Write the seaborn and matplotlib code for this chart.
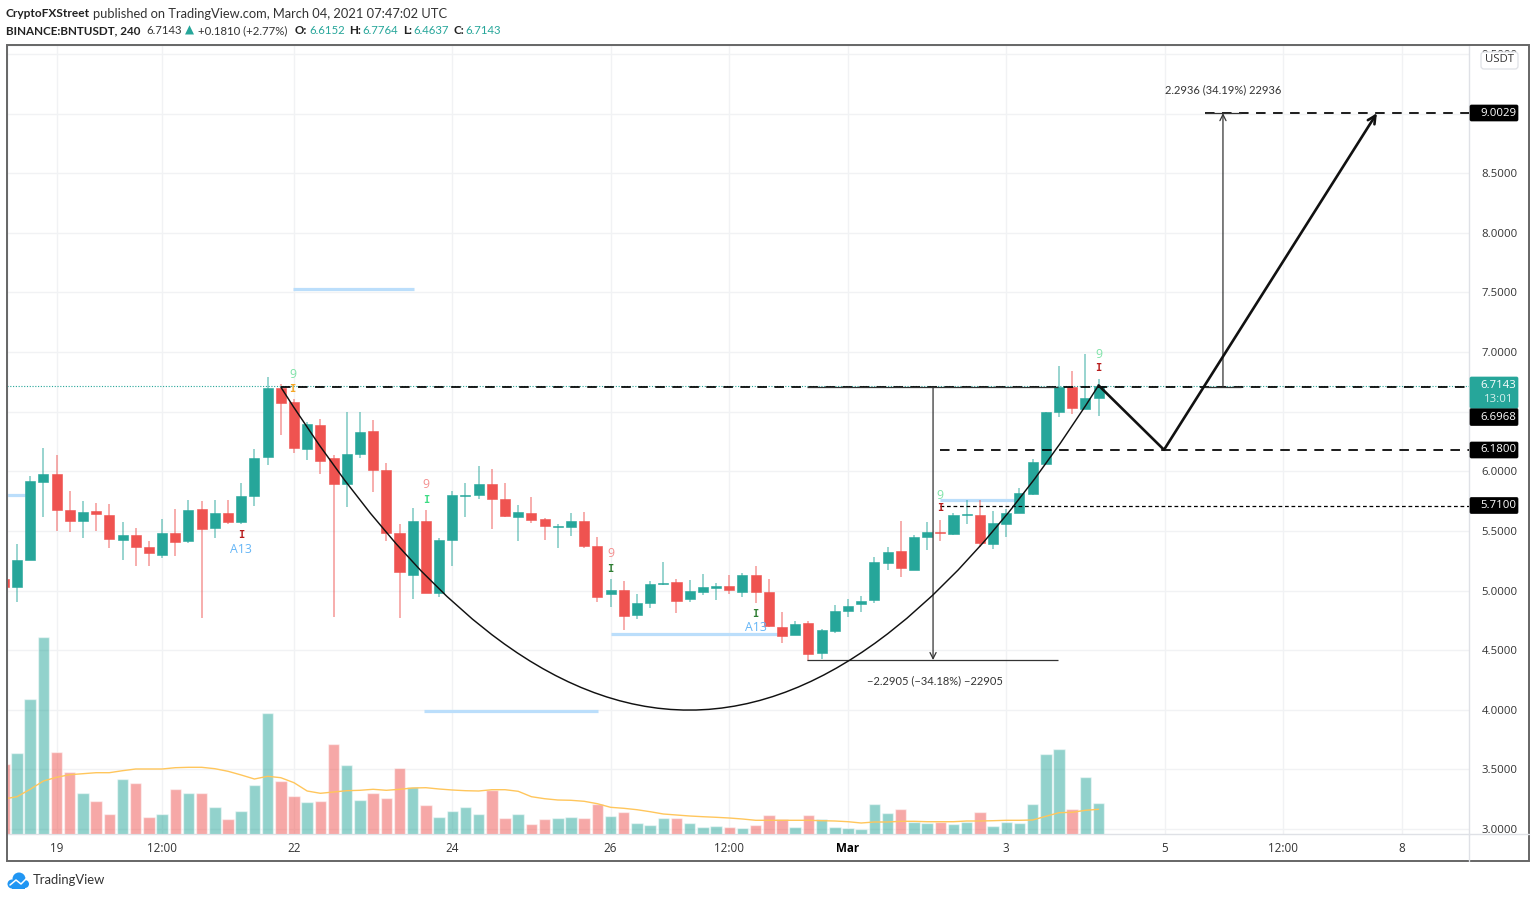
import numpy as np
import pandas as pd
import seaborn as sns
import matplotlib.pyplot as plt
from matplotlib.patches import FancyBboxPatch, PathPatch, Rectangle, Circle
from matplotlib.path import Path

# candles, first one is cut by the left edge of the chart
opens = [5.093, 5.026, 5.255, 5.912, 5.973, 5.674, 5.585, 5.663, 5.635, 5.425, 5.462, 5.361, 5.300, 5.481, 5.414, 5.680,
         5.520, 5.646, 5.573, 5.794, 6.118, 6.697, 6.579, 6.185, 6.392, 6.107, 5.892, 6.146, 6.339, 6.007, 5.481, 5.129,
         5.582, 4.981, 5.425, 5.791, 5.805, 5.895, 5.766, 5.615, 5.649, 5.596, 5.534, 5.532, 5.582, 5.375, 4.967, 5.003,
         4.794, 4.897, 5.054, 5.070, 4.928, 4.987, 5.023, 5.037, 4.984, 5.129, 4.984, 4.696, 4.629, 4.724, 4.475, 4.663,
         4.830, 4.889, 4.917, 5.230, 5.328, 5.174, 5.445, 5.490, 5.473, 5.629, 5.635, 5.386, 5.559, 5.646, 5.808, 6.062,
         6.498, 6.705, 6.523, 6.6152]
highs = [5.150, 5.389, 5.959, 6.199, 6.135, 5.836, 5.749, 5.736, 5.724, 5.571, 5.523, 5.417, 5.599, 5.682, 5.758, 5.749,
         5.763, 5.758, 5.898, 6.183, 6.792, 6.733, 6.602, 6.412, 6.440, 6.135, 6.501, 6.501, 6.428, 6.068, 5.557, 5.696,
         5.671, 5.437, 5.836, 5.900, 6.048, 6.015, 5.900, 5.713, 5.780, 5.604, 5.557, 5.654, 5.657, 5.445, 5.098, 5.076,
         4.970, 5.076, 5.235, 5.093, 5.087, 5.138, 5.059, 5.126, 5.146, 5.205, 5.093, 4.819, 4.741, 4.746, 4.679, 4.878,
         4.925, 4.953, 5.277, 5.364, 5.582, 5.464, 5.576, 5.590, 5.649, 5.763, 5.763, 5.668, 5.682, 5.856, 6.099, 6.498,
         6.881, 6.839, 6.982, 6.7764]
lows = [4.950, 4.900, 5.255, 5.618, 5.498, 5.492, 5.442, 5.498, 5.353, 5.252, 5.207, 5.207, 5.275, 5.288, 5.400, 4.772,
        5.442, 5.554, 5.554, 5.705, 6.051, 6.303, 6.155, 6.096, 5.976, 4.777, 5.702, 6.113, 5.825, 5.417, 4.769, 4.928,
        4.981, 4.948, 5.207, 5.613, 5.766, 5.512, 5.618, 5.411, 5.568, 5.425, 5.358, 5.456, 5.353, 4.900, 4.861, 4.668,
        4.760, 4.855, 5.043, 4.813, 4.903, 4.962, 4.920, 4.970, 4.948, 4.894, 4.690, 4.556, 4.629, 4.411, 4.422, 4.646,
        4.774, 4.822, 4.897, 5.171, 5.115, 5.174, 5.339, 5.417, 5.467, 5.559, 5.361, 5.344, 5.445, 5.646, 5.803, 6.062,
        6.456, 6.484, 6.523, 6.4637]
closes = [5.026, 5.255, 5.920, 5.973, 5.674, 5.585, 5.660, 5.638, 5.431, 5.462, 5.361, 5.316, 5.481, 5.409, 5.674, 5.515,
          5.646, 5.573, 5.794, 6.113, 6.697, 6.571, 6.191, 6.395, 6.090, 5.892, 6.146, 6.333, 6.012, 5.478, 5.154, 5.582,
          4.981, 5.423, 5.803, 5.800, 5.895, 5.766, 5.624, 5.657, 5.593, 5.540, 5.543, 5.582, 5.372, 4.948, 5.003, 4.788,
          4.897, 5.051, 5.065, 4.914, 4.995, 5.026, 5.037, 5.001, 5.129, 4.987, 4.702, 4.618, 4.718, 4.470, 4.665, 4.827,
          4.872, 4.911, 5.235, 5.319, 5.188, 5.448, 5.490, 5.481, 5.635, 5.638, 5.397, 5.562, 5.649, 5.814, 6.074, 6.498,
          6.705, 6.529, 6.613, 6.7143]
volume = [70, 80.7, 134.7, 197.3, 81.7, 61.7, 41.3, 33.3, 20, 54.7, 50.7, 16.7, 20, 44.7, 41.3, 41.3,
          27, 15, 23, 49, 121.3, 53, 38, 32, 33.3, 89.7, 69, 34, 40.7, 35.7, 65.7, 46.7,
          28.7, 17.3, 23, 27, 20, 44, 16, 20, 9.7, 15, 16, 17, 16, 30.3, 18.3, 22.3,
          10.7, 9, 16, 16, 11.3, 7.3, 8, 7, 5.7, 9, 19, 14.7, 7, 19, 14.7, 7.3,
          6, 5, 30.3, 20.7, 24.7, 12.3, 11.3, 12, 9.7, 12, 21.7, 8, 12, 11.3, 29.7, 80,
          85, 24.7, 57, 31]
volume_ma = [35, 37.3, 44.7, 53, 56.7, 59.3, 60.3, 61.3, 61.3, 63.3, 65, 65, 65, 66.3, 66.7, 66.7,
             65.3, 62.7, 59, 55, 57.7, 56.3, 51.3, 43, 40.7, 42, 43.3, 43.7, 44.7, 43.7, 44.7, 46,
             46.3, 45, 44, 43.3, 43, 44.3, 44.3, 42.7, 37.3, 35.3, 34, 33.7, 32.7, 30.3, 26.7, 25.7,
             24.3, 22.3, 20, 19, 18, 17.3, 16.7, 16, 15, 13.7, 13.7, 13.7, 13.7, 13.7, 13.3, 13,
             12.3, 11, 12, 12, 12.7, 12.7, 12.3, 12.3, 12.3, 13, 13, 13.3, 13.7, 13.7, 14, 17.7,
             21.3, 21.7, 23.7, 24.7]

price_ticks = [3.0, 3.5, 4.0, 4.5, 5.0, 5.5, 6.0, 6.5, 7.0, 7.5, 8.0, 8.5, 9.0, 9.5]
time_ticks = [3, 11, 21, 33, 45, 54, 63, 75, 87, 96, 105]
time_labels = ['19', '12:00', '22', '24', '26', '12:00', 'Mar', '3', '5', '12:00', '8']

# drawings on the chart (bar index, price)
resistance = 6.705
level_mid = 6.18
level_low = 5.71
level_target = 9.0029
measure_down = [69.45, 4.417]
measure_up = [91.43, 9.0029]
swing_x = [82, 86.96, 103.1]
swing_y = [6.72, 6.18, 9.0029]
cup = [(20, 6.706), (51, 1.281), (82, 6.72)]
zones = [(20.9, 30.1, 7.528), (30.86, 44.05, 3.99), (45, 57.85, 4.635), (-0.8, 0.6, 5.80), (70, 75.7, 5.76)]
td_labels = [(20.9, 6.815, '9', '#7fe3a8'), (20.9, 6.69, 'I', '#f5a623'),
             (17, 5.465, 'I', '#b71c1c'), (17, 5.348, 'A13', '#64b5f6'),
             (31, 5.893, '9', '#f48f8f'), (31, 5.759, 'I', '#3ddc84'),
             (45, 5.314, '9', '#f48f8f'), (45, 5.18, 'I', '#2e7d32'),
             (56, 4.803, 'I', '#2e7d32'), (56, 4.686, 'A13', '#64b5f6'),
             (70, 5.80, '9', '#7fe3a8'), (70, 5.692, 'I', '#b71c1c'),
             (82, 6.983, '9', '#7fe3a8'), (82, 6.866, 'I', '#b71c1c')]

UP = '#26a69a'
DOWN = '#ef5350'
GRID = '#f1f2f4'
SEP = '#dfe1e6'
TXT = '#333333'

sns.set_theme(style='white')
plt.rcParams['font.family'] = ['Open Sans', 'DejaVu Sans']

df = pd.DataFrame({'bar': np.arange(-1, len(opens) - 1), 'open': opens, 'high': highs, 'low': lows,
                   'close': closes, 'volume': volume, 'ma': volume_ma})
df['dir'] = np.where(df['close'] >= df['open'], 'up', 'down')
palette = {'up': UP, 'down': DOWN}

W, H = 1536, 899
DX = 13.19


def px_box(left, top, right, bottom):
    return [left / W, 1 - bottom / H, (right - left) / W, (bottom - top) / H]


fig = plt.figure(figsize=(W / 100, H / 100), dpi=100, facecolor='white')
ax = fig.add_axes(px_box(7, 45, 1469, 834))
ax_vol = fig.add_axes(px_box(7, 620, 1469, 834), sharex=None)
ax_vol.patch.set_alpha(0)
over = fig.add_axes([0, 0, 1, 1], zorder=10)
over.set_xlim(0, W)
over.set_ylim(H, 0)
over.axis('off')

x_range = ((7 - 17) / DX, (1469 - 17) / DX)

# volume panel
sns.barplot(data=df, x='bar', y='volume', hue='dir', palette=palette, native_scale=True, dodge=False, width=0.87,
            alpha=0.5, saturation=1, legend=False, ax=ax_vol)
sns.lineplot(data=df, x='bar', y='ma', color='#ffc65c', linewidth=1.0, ax=ax_vol)
ax_vol.set_xlim(*x_range)
ax_vol.set_ylim(0, 214)
ax_vol.axis('off')

# candles
for _, c in df.iterrows():
    col = palette[c['dir']]
    ax.vlines(c['bar'], c['low'], c['high'], color=col, linewidth=1.1, alpha=0.6, zorder=3)
ax.bar(df['bar'], (df['close'] - df['open']).abs(), bottom=df[['open', 'close']].min(axis=1), width=0.76,
       color=df['dir'].map(palette), edgecolor=df['dir'].map(palette), linewidth=0.4, zorder=4)

ax.set_xlim(*x_range)
ax.set_ylim(3 + (829 - 834) / 119.25, 3 + (829 - 45) / 119.25)
ax.set_yticks(price_ticks)
# 6.5000 sits behind the last-price labels in the original
ax.set_yticklabels(['' if p == 6.5 else '%.4f' % p for p in price_ticks], fontsize=8.2, color=TXT)
ax.yaxis.tick_right()
ax.set_xticks(time_ticks)
ax.set_xticklabels(time_labels, fontsize=8.4, color=TXT)
ax.get_xticklabels()[6].set_fontweight('bold')
ax.get_xticklabels()[6].set_color('black')
ax.tick_params(axis='both', length=0)
ax.tick_params(axis='y', pad=9)
ax.tick_params(axis='x', pad=6)
ax.grid(True, color=GRID, linewidth=1)
ax.set_axisbelow(True)
for s in ax.spines.values():
    s.set_color(SEP)
    s.set_linewidth(1)

# zones and levels
for x0, x1, y in zones:
    ax.hlines(y, x0, x1, color='#bbdefb', linewidth=2.3, zorder=2)
right = x_range[1]
ax.hlines(6.7143, x_range[0], right, color=UP, linewidth=0.8, linestyle=(0, (1, 1.5)), zorder=3)
ax.hlines(resistance, 20, right, color='black', linewidth=1.25, linestyle=(0, (5.5, 4.3)), zorder=5)
ax.hlines(level_mid, 70, right, color='black', linewidth=1.25, linestyle=(0, (5.5, 4.3)), zorder=5)
ax.hlines(level_target, 90.07, right, color='black', linewidth=1.25, linestyle=(0, (5.5, 4.3)), zorder=5)
ax.hlines(level_low, 70, right, color='black', linewidth=0.9, linestyle=(0, (3, 2.2)), zorder=5)

# cup
ax.add_patch(PathPatch(Path(cup, [Path.MOVETO, Path.CURVE3, Path.CURVE3]), facecolor='none', edgecolor='#111111',
                       linewidth=1.05, zorder=6))

# measure tools
ax.hlines(resistance, 59.9, 78.9, color='#333333', linewidth=0.9, zorder=5)
ax.hlines(measure_down[1], 59.9, 78.9, color='#333333', linewidth=0.9, zorder=5)
ax.annotate('', xy=(measure_down[0], measure_down[1]), xytext=(measure_down[0], resistance),
            arrowprops=dict(arrowstyle='->', color='#333333', lw=0.9, shrinkA=0, shrinkB=0, mutation_scale=11), zorder=5)
ax.text(measure_down[0] + 0.15, 4.24, '\u22122.2905 (\u221234.18%) \u221222905', ha='center', va='center',
        fontsize=8.0, color=TXT, family='Lato')
ax.hlines(level_target, 90.07, 92.8, color='#333333', linewidth=0.9, zorder=5)
ax.hlines(6.708, 90.07, 92.8, color='#333333', linewidth=0.9, zorder=5)
ax.annotate('', xy=(measure_up[0], measure_up[1]), xytext=(measure_up[0], 6.708),
            arrowprops=dict(arrowstyle='->', color='#333333', lw=0.9, shrinkA=0, shrinkB=0, mutation_scale=11), zorder=5)
ax.text(measure_up[0], 9.197, '2.2936 (34.19%) 22936', ha='center', va='center', fontsize=8.0, color=TXT, family='Lato')

# projected move
ax.plot(swing_x[:2], swing_y[:2], color='#111111', linewidth=1.9, zorder=6)
ax.annotate('', xy=(swing_x[2], swing_y[2]), xytext=(swing_x[1], swing_y[1]),
            arrowprops=dict(arrowstyle='->', color='#111111', lw=1.9, shrinkA=0, shrinkB=0, mutation_scale=14), zorder=6)

for x, y, s, col in td_labels:
    if s == 'I':
        ax.text(x, y, s, ha='center', va='center', color=col, fontsize=7.5, fontweight='bold', family='DejaVu Sans Mono', zorder=7)
    else:
        ax.text(x, y, s, ha='center', va='center', color=col, fontsize=8.8, zorder=7)

# chart frame, the bottom axis line and the price scale line run on past the panes
over.add_patch(Rectangle((7, 45), 1522, 816, facecolor='none', edgecolor='#666666', linewidth=1.4))
over.plot([1469, 1529], [834, 834], color=SEP, linewidth=1)
over.plot([1469, 1469], [834, 861], color=SEP, linewidth=1)

# price labels
boxes = [(113, 16, 'black', '9.0029'), (417, 17, 'black', '6.6968'), (450, 16, 'black', '6.1800'), (505.5, 16, 'black', '5.7100')]
for yc, h, col, s in boxes:
    over.add_patch(FancyBboxPatch((1470, yc - h / 2), 48, h, boxstyle='round,pad=0,rounding_size=1.5', facecolor=col, edgecolor=col, linewidth=0.5))
    over.text(1498.5, yc, s, color='white', ha='center', va='center', fontsize=8.2)
over.add_patch(FancyBboxPatch((1470, 377), 48, 31, boxstyle='round,pad=0,rounding_size=1.5', facecolor=UP, edgecolor=UP, linewidth=0.5))
over.text(1498.5, 385.5, '6.7143', color='white', ha='center', va='center', fontsize=8.2)
over.text(1498.5, 400, '13:01', color='#d5f0ed', ha='center', va='center', fontsize=8.2)
over.add_patch(FancyBboxPatch((1481, 52), 37, 17, boxstyle='round,pad=0,rounding_size=3', facecolor='white', edgecolor='#dfe1e6', linewidth=0.9))
over.text(1499.5, 60, 'USDT', color=TXT, ha='center', va='center', fontsize=8.2)

# header, Lato runs wide so bold and digits get a smaller size
HF = 'Lato'
BOLD = 8.4
REG = 9.3
NUM = 8.2
over.text(6, 13.5, 'CryptoFXStreet', fontweight='bold', fontsize=BOLD + 0.2, color='#222222', va='center', family=HF)
over.text(93, 13.5, 'published on TradingView.com, March 04, 2021 07:47:02 UTC', fontsize=REG, color='#333333', va='center', family=HF)
over.text(6, 30.5, 'BINANCE:BNTUSDT, 240', fontweight='bold', fontsize=BOLD, color='#222222', va='center', family=HF)
over.text(146, 30.5, '6.7143', fontsize=NUM, color='#333333', va='center', family=HF)
over.text(189, 30.5, '\u25b2', fontsize=8.5, color=UP, va='center', ha='center', family='DejaVu Sans')
over.text(198, 30.5, '+0.1810 (+2.77%)', fontsize=NUM, color='#333333', va='center', family=HF)
for x, lab, xv, val in [(295, 'O:', 309, '6.6152'), (349.5, 'H:', 362, '6.7764'), (403, 'L:', 413, '6.4637'), (454, 'C:', 465, '6.7143')]:
    over.text(x, 30.5, lab, fontweight='bold', fontsize=BOLD, color='#222222', va='center', family=HF)
    over.text(xv, 30.5, val, fontsize=NUM, color=UP, va='center', family=HF)

# logo
for cx, cy, r in [(12, 884, 4.5), (19, 879, 6.5), (25, 884, 4)]:
    over.add_patch(Circle((cx, cy), r, facecolor='#2196f3', edgecolor='none'))
over.add_patch(Rectangle((12, 881), 13, 7.5, facecolor='#2196f3', edgecolor='none'))
over.plot([10, 16, 21, 27], [885, 880, 884, 878], color='white', linewidth=1.1)
over.text(33, 880.5, 'TradingView', fontsize=9.4, color='#333333', va='center', family=HF)

fig.savefig('out.png', dpi=100)
